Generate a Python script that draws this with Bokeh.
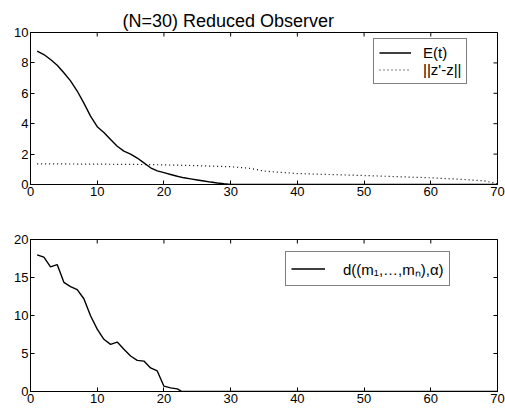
import math
from bokeh.plotting import figure
from bokeh.models import Range1d, Legend, LegendItem, FixedTicker, Title
from bokeh.layouts import column
from bokeh.embed import file_html
from bokeh.resources import INLINE

# ---- data ----
t_E = list(range(1, 31)) + [70]
E = [8.77, 8.55, 8.22, 7.85, 7.35, 6.82, 6.15, 5.35, 4.5, 3.8,
     3.42, 2.96, 2.52, 2.2, 2.0, 1.74, 1.42, 1.1, 0.9, 0.78,
     0.66, 0.54, 0.44, 0.37, 0.3, 0.23, 0.16, 0.1, 0.05, 0.01, 0.0]
t_z = [1, 10, 18, 25, 30, 33, 35, 40, 50, 60, 65, 68, 70]
z = [1.36, 1.34, 1.31, 1.24, 1.17, 1.06, 0.88, 0.72, 0.59, 0.44, 0.33, 0.24, 0.05]
t_d = list(range(1, 23)) + [22.7, 70]
d = [17.97, 17.67, 16.4, 16.7, 14.36, 13.8, 13.4, 12.2, 9.96, 8.2,
     6.87, 6.2, 6.5, 5.55, 4.67, 4.1, 4.0, 3.1, 2.7, 0.7,
     0.48, 0.35, 0.0, 0.0]
x_ticks = [0, 10, 20, 30, 40, 50, 60, 70]
y1_ticks = [0, 2, 4, 6, 8, 10]
y2_ticks = [0, 5, 10, 15, 20]

FONT = "Liberation Sans"


def style(p, yticks):
    p.xgrid.visible = False
    p.ygrid.visible = False
    p.outline_line_color = "black"
    p.outline_line_width = 1
    p.background_fill_color = "white"
    p.border_fill_color = "white"
    for ax in p.xaxis + p.yaxis:
        ax.major_tick_in = 4
        ax.major_tick_out = 0
        ax.minor_tick_in = 0
        ax.minor_tick_out = 0
        ax.axis_line_color = "black"
        ax.major_tick_line_color = "black"
        ax.major_label_text_font = FONT
        ax.major_label_text_font_size = "13px"
        ax.major_label_text_color = "black"
        ax.major_label_standoff = 2
    p.xaxis.ticker = FixedTicker(ticks=x_ticks)
    p.yaxis.ticker = FixedTicker(ticks=yticks)
    # mirrored inward ticks on top and right edges (MATLAB box); half clipped by frame
    p.scatter(x=x_ticks, y=[yticks[-1]] * len(x_ticks), marker="dash", angle=math.pi / 2,
              size=8, line_color="black", line_width=1)
    p.scatter(x=[x_ticks[-1]] * len(yticks), y=yticks, marker="dash",
              size=8, line_color="black", line_width=1)


def legend_style(lg):
    lg.border_line_color = "black"
    lg.border_line_width = 1
    lg.background_fill_color = "white"
    lg.background_fill_alpha = 1
    lg.label_text_font = FONT
    lg.label_text_font_size = "15px"
    lg.label_text_color = "black"
    lg.padding = 5
    lg.spacing = 0
    lg.margin = 0
    lg.glyph_width = 32
    lg.label_standoff = 12
    lg.label_height = 15
    lg.glyph_height = 15


p1 = figure(frame_width=467, frame_height=152, min_border_left=30, min_border_right=8,
            min_border_top=32, min_border_bottom=0,
            x_range=Range1d(0, 70), y_range=Range1d(0, 10),
            output_backend="svg", toolbar_location=None)
p1.add_layout(Title(text="(N=30) Reduced Observer", align="left", offset=92,
                    text_font=FONT, text_font_size="18px", text_font_style="normal",
                    text_color="black", standoff=3), "above")
style(p1, y1_ticks)
r_e = p1.line(t_E, E, line_color="black", line_width=1.4)
r_z = p1.line(t_z, z, line_color="black", line_width=1.2, line_dash="1 3")
lg1 = Legend(items=[LegendItem(label="E(t)", renderers=[r_e]),
                    LegendItem(label="||z'-z||", renderers=[r_z])],
             location=(343, 100))
legend_style(lg1)
p1.add_layout(lg1, "center")

p2 = figure(frame_width=467, frame_height=152, min_border_left=30, min_border_right=8,
            min_border_top=41, min_border_bottom=0,
            x_range=Range1d(0, 70), y_range=Range1d(0, 20),
            output_backend="svg", toolbar_location=None)
style(p2, y2_ticks)
r_d = p2.line(t_d, d, line_color="black", line_width=1.4)
lg2 = Legend(items=[LegendItem(label="d((m₁,…,mₙ),α)", renderers=[r_d])],
             location=(255, 105))
legend_style(lg2)
lg2.glyph_width = 34
lg2.label_height = 23
lg2.glyph_height = 23
lg2.padding = 5
lg2.label_standoff = 18
p2.add_layout(lg2, "center")

layout = column(p1, p2, spacing=0)
open("out.html", "w").write(file_html(layout, INLINE))
